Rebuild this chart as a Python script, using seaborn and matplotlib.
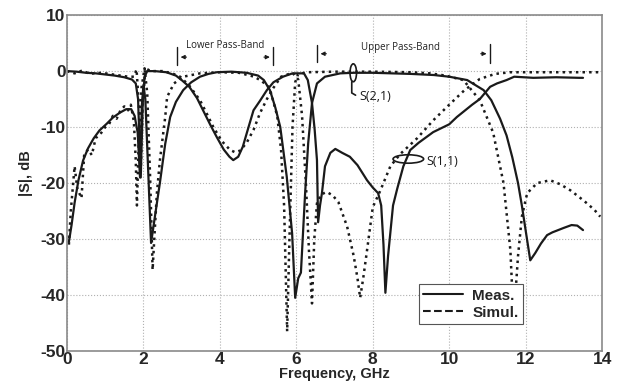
import numpy as np
import pandas as pd
import matplotlib
matplotlib.use("Agg")
import matplotlib.pyplot as plt
from matplotlib.patches import Ellipse
from matplotlib.lines import Line2D
import seaborn as sns

# ---- data (GHz, dB) ----
s21_meas_f = [0.05, 0.12, 0.2, 0.3, 0.42, 0.55, 0.7, 0.85, 1.04, 1.2, 1.39, 1.55, 1.68, 1.77, 1.85, 1.91,
              1.96, 2.0, 2.05, 2.12, 2.2, 2.3, 2.43, 2.57, 2.7, 2.85, 3.04, 3.25, 3.48, 3.7, 3.92, 4.3,
              4.7, 5.0, 5.15, 5.31, 5.45, 5.58, 5.75, 5.89, 5.97, 6.05, 6.12, 6.23, 6.31, 6.41, 6.54,
              6.75, 7.15, 7.5, 8.0, 8.5, 9.0, 9.6, 10.0, 10.47, 10.9, 11.1, 11.33, 11.5, 11.65, 11.8,
              11.9, 12.0, 12.12, 12.25, 12.4, 12.56, 12.7, 12.85, 13.0, 13.2, 13.35, 13.5]
s21_meas_db = [-30.5, -27.5, -23.5, -19.5, -16.0, -13.8, -12.0, -10.6, -9.4, -8.3, -7.4, -6.8, -6.8, -8.0,
               -11.0, -19.0, -6.0, -2.5, -5.0, -17.0, -30.7, -26.0, -20.0, -13.0, -8.2, -5.5, -3.4, -2.0,
               -1.0, -0.5, -0.2, -0.1, -0.3, -0.8, -1.6, -3.4, -6.5, -10.0, -18.9, -29.0, -40.5, -37.0,
               -36.0, -21.8, -12.9, -5.7, -2.2, -1.0, -0.4, -0.3, -0.3, -0.4, -0.5, -0.7, -1.0, -1.6,
               -3.4, -5.2, -8.5, -11.5, -15.4, -20.0, -24.0, -28.5, -33.8, -32.5, -30.8, -29.3, -28.8,
               -28.4, -28.0, -27.5, -27.6, -28.4]

s11_meas_f = [0.0, 0.25, 0.5, 0.75, 1.0, 1.25, 1.5, 1.7, 1.8, 1.86, 1.93, 1.98, 2.03, 2.1, 2.3, 2.6, 2.85,
              3.0, 3.2, 3.4, 3.56, 3.75, 3.92, 4.1, 4.25, 4.35, 4.48, 4.6, 4.75, 4.88, 5.05, 5.23, 5.4,
              5.65, 5.9, 6.2, 6.3, 6.41, 6.48, 6.54, 6.57, 6.62, 6.67, 6.75, 6.89, 7.02, 7.2, 7.4, 7.6,
              7.85, 8.0, 8.14, 8.22, 8.28, 8.33, 8.4, 8.53, 8.64, 8.8, 8.98, 9.2, 9.58, 10.0, 10.2, 10.6,
              10.8, 11.07, 11.25, 11.5, 11.7, 12.2, 12.8, 13.4, 13.5]
s11_meas_db = [0.0, -0.1, -0.3, -0.4, -0.6, -0.8, -1.1, -1.5, -2.2, -5.0, -19.0, -6.0, -1.0, 0.0, 0.0,
               -0.2, -0.8, -1.6, -2.8, -4.8, -7.0, -9.6, -11.8, -14.0, -15.3, -15.9, -15.3, -13.5, -10.0,
               -7.0, -5.3, -3.4, -2.0, -1.0, -0.4, -0.4, -1.6, -5.7, -10.5, -15.9, -27.0, -24.0, -21.8,
               -17.0, -14.6, -13.9, -14.6, -15.3, -16.8, -19.5, -20.8, -21.8, -24.0, -31.0, -39.6, -33.0,
               -24.0, -21.0, -17.0, -14.1, -12.8, -10.9, -9.5, -8.2, -6.0, -5.0, -2.8, -2.2, -1.6, -1.0,
               -1.2, -1.1, -1.2, -1.2]

s21_sim_f = [0.05, 0.1, 0.2, 0.27, 0.38, 0.45, 0.55, 0.65, 0.75, 0.9, 1.0, 1.1, 1.2, 1.3, 1.4, 1.5, 1.6,
             1.67, 1.75, 1.8, 1.83, 1.88, 1.95, 2.03, 2.1, 2.18, 2.24, 2.3, 2.35, 2.43, 2.57, 2.62, 2.8,
             3.04, 3.48, 4.0, 4.5, 4.9, 5.1, 5.3, 5.5, 5.6, 5.68, 5.76, 5.82, 5.9, 5.97, 6.05, 6.3, 7.0,
             8.0, 9.0, 9.5, 9.9, 10.37, 10.8, 11.15, 11.42, 11.6, 11.68, 11.75, 11.8, 11.9, 12.04, 12.3,
             12.64, 12.9, 13.17, 13.4, 13.6, 13.8, 13.95]
s21_sim_db = [-31.0, -25.0, -17.0, -21.0, -22.7, -15.0, -14.0, -15.0, -12.0, -11.0, -10.0, -9.5, -8.0,
              -8.5, -7.0, -6.3, -7.0, -6.0, -9.0, -16.0, -24.0, -12.0, -3.0, 0.5, -4.0, -20.0, -35.5,
              -28.0, -22.0, -16.0, -8.2, -4.6, -2.2, -1.0, -0.4, -0.2, -0.3, -1.0, -1.8, -3.0, -8.0,
              -14.0, -24.0, -46.5, -30.0, -10.0, -2.0, -0.5, -0.2, -0.1, -0.1, -0.2, -0.4, -0.8, -1.6,
              -5.2, -11.0, -20.0, -32.0, -44.0, -38.0, -33.0, -26.0, -21.8, -20.0, -19.5, -20.2, -21.3,
              -22.5, -23.6, -24.8, -26.0]

s11_sim_f = [0.0, 0.2, 0.4, 0.6, 0.8, 1.0, 1.2, 1.4, 1.6, 1.75, 1.82, 1.88, 1.93, 1.98, 2.05, 2.2, 2.5,
             2.75, 2.96, 3.2, 3.48, 3.65, 3.83, 4.05, 4.27, 4.4, 4.53, 4.7, 4.88, 5.05, 5.23, 5.4, 5.6,
             5.9, 6.05, 6.15, 6.25, 6.33, 6.41, 6.47, 6.54, 6.65, 6.8, 6.95, 7.1, 7.33, 7.5, 7.6, 7.67,
             7.75, 7.85, 8.0, 8.2, 8.46, 8.72, 9.16, 9.58, 10.0, 10.4, 10.8, 11.2, 11.6, 12.5, 13.5, 14.0]
s11_sim_db = [0.0, -0.4, 0.1, -0.5, -0.3, -0.4, -0.6, -0.8, -1.0, -1.0, 0.3, -6.0, -18.0, -6.0, 0.5, 0.0,
              0.0, -0.4, -1.0, -2.6, -5.2, -7.5, -10.0, -12.5, -14.1, -14.5, -14.2, -12.8, -10.5, -7.5,
              -5.0, -3.0, -1.0, -0.3, -1.5, -8.0, -20.0, -32.0, -41.5, -30.0, -23.6, -22.0, -21.6, -22.2,
              -23.4, -27.8, -33.0, -37.0, -40.5, -37.0, -32.0, -24.3, -21.3, -17.0, -14.8, -12.0, -8.8,
              -6.0, -3.4, -1.4, -0.5, -0.2, -0.2, -0.2, -0.2]

x_ticks = [0, 2, 4, 6, 8, 10, 12, 14]
y_ticks = [-50, -40, -30, -20, -10, 0, 10]
legend_labels = ["Meas.", "Simul."]

sns.set_style("whitegrid", {"grid.linestyle": ":", "grid.color": "#b0b0b0",
                            "axes.edgecolor": "#8a8a8a"})
plt.rcParams["font.family"] = ["Liberation Sans", "DejaVu Sans"]
plt.rcParams["axes.unicode_minus"] = False

fig = plt.figure(figsize=(6.23, 3.91), dpi=100)
ax = fig.add_axes([0.1075, 0.1023, 0.859, 0.859])

ink = "#1a1a1a"
series = [
    (s21_meas_f, s21_meas_db, "-"),
    (s11_meas_f, s11_meas_db, "-"),
    (s21_sim_f, s21_sim_db, ":"),
    (s11_sim_f, s11_sim_db, ":"),
]
for f, db, ls in series:
    d = pd.DataFrame({"f": f, "db": db})
    sns.lineplot(data=d, x="f", y="db", ax=ax, color=ink, linestyle=ls,
                 linewidth=1.6 if ls == "-" else 1.8, estimator=None, sort=False)

ax.set_xlim(0, 14)
ax.set_ylim(-50, 10)
ax.set_xticks(x_ticks)
ax.set_yticks(y_ticks)
ax.tick_params(axis="both", labelsize=12.5, pad=1, length=0)
for lab in ax.get_xticklabels() + ax.get_yticklabels():
    lab.set_fontweight("bold")
ax.set_xlabel("Frequency, GHz", fontsize=10.5, fontweight="bold", labelpad=0)
ax.set_ylabel("|S|, dB", fontsize=10.5, fontweight="bold", labelpad=0)
ax.yaxis.set_label_coords(-0.064, 0.53)
for sp in ax.spines.values():
    sp.set_linewidth(1.2)

# ---- pass-band markers ----
ann_font = dict(fontsize=7, color="#222222", family=["Open Sans", "DejaVu Sans"])
ax.text(4.14, 4.6, "Lower Pass-Band", ha="center", va="center", **ann_font)
ax.text(8.72, 4.3, "Upper Pass-Band", ha="center", va="center", **ann_font)
for xb, y0, y1 in [(2.88, 1.1, 4.3), (5.4, 1.1, 4.3), (6.54, 1.6, 4.6), (11.07, 1.4, 4.9)]:
    ax.plot([xb, xb], [y0, y1], color=ink, lw=1.0)
arrow = dict(arrowstyle="-|>", color=ink, lw=0.8, mutation_scale=6)
ax.annotate("", xy=(2.9, 2.5), xytext=(3.2, 2.5), arrowprops=arrow)
ax.annotate("", xy=(5.38, 2.5), xytext=(5.08, 2.5), arrowprops=arrow)
ax.annotate("", xy=(6.56, 3.1), xytext=(6.86, 3.1), arrowprops=arrow)
ax.annotate("", xy=(11.05, 3.1), xytext=(10.75, 3.1), arrowprops=arrow)

# ---- S(2,1) / S(1,1) callouts ----
ax.add_patch(Ellipse((7.49, -0.3), 0.17, 3.2, fill=False, ec=ink, lw=1.2))
ax.plot([7.45, 7.45, 7.55], [-1.9, -3.9, -4.3], color=ink, lw=1.2)
ax.text(7.65, -4.6, "S(2,1)", ha="left", va="center", fontsize=9,
        color=ink, family=["Open Sans", "DejaVu Sans"])
ax.add_patch(Ellipse((8.93, -15.7), 0.8, 1.5, fill=False, ec=ink, lw=1.2))
ax.text(9.4, -16.2, "S(1,1)", ha="left", va="center", fontsize=9,
        color=ink, family=["Open Sans", "DejaVu Sans"])

# ---- legend ----
handles = [Line2D([], [], color=ink, lw=1.5, ls="-"),
           Line2D([], [], color=ink, lw=1.5, ls="--")]
leg = ax.legend(handles, legend_labels, loc="lower left", bbox_to_anchor=(0.643, 0.057),
                frameon=True, fancybox=False, framealpha=1, edgecolor="#555555",
                prop={"weight": "bold", "size": 11}, handlelength=2.6,
                borderpad=0.3, labelspacing=0.2, handletextpad=0.6)
leg.get_frame().set_linewidth(0.8)

fig.savefig("out.png", dpi=100)
